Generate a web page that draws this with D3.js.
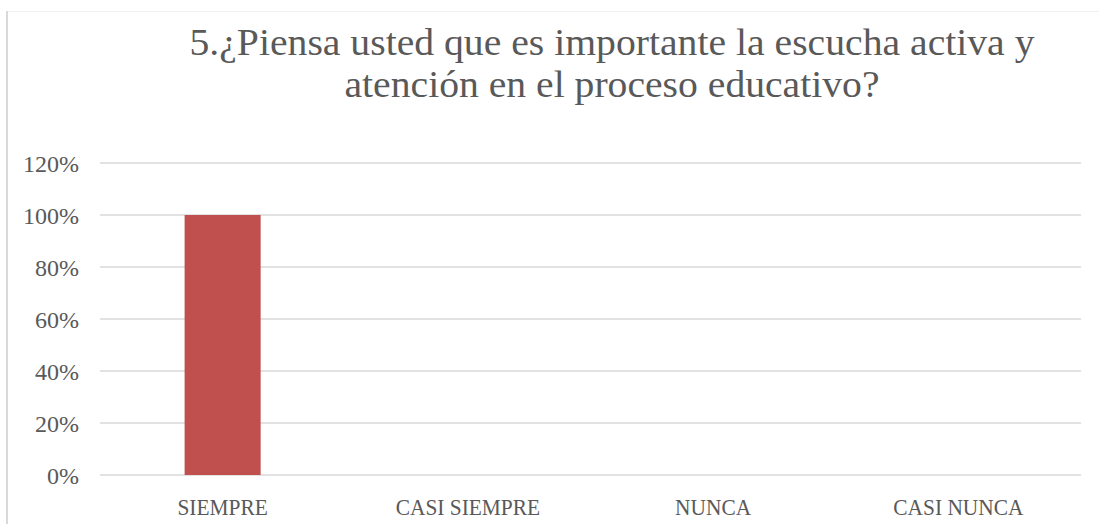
<!DOCTYPE html>
<html>
<head>
<meta charset="utf-8">
<script src="https://cdn.jsdelivr.net/npm/d3@7"></script>
<style>
  html, body { margin: 0; padding: 0; background: #ffffff; }
  svg { display: block; }
  text { font-family: "Liberation Serif", "DejaVu Serif", serif; fill: #595959; }
</style>
</head>
<body>
<svg id="chart" width="1099" height="524"></svg>
<script>
const titleLines = ["5.¿Piensa usted que es importante la escucha activa y", "atención en el proceso educativo?"];
const categories = ["SIEMPRE", "CASI SIEMPRE", "NUNCA", "CASI NUNCA"];
const values = [1.0, 0, 0, 0];
const yTicks = [0, 0.2, 0.4, 0.6, 0.8, 1.0, 1.2];

const svg = d3.select("#chart");
const W = 1099, H = 524;
const plot = { left: 100, right: 1081, top: 163, bottom: 475 };

// chart area border
svg.append("line").attr("x1", 6).attr("x2", W).attr("y1", 11.5).attr("y2", 11.5)
  .attr("stroke", "#f0f0f0").attr("stroke-width", 1);
svg.append("line").attr("x1", 7).attr("x2", 7).attr("y1", 11).attr("y2", H)
  .attr("stroke", "#d9d9d9").attr("stroke-width", 2);

const x = d3.scaleBand().domain(categories).range([plot.left, plot.right])
  .paddingInner(0.69).paddingOuter(0.345);
const y = d3.scaleLinear().domain([0, 1.2]).range([plot.bottom, plot.top]);

// gridlines
svg.append("g").selectAll("line").data(yTicks).join("line")
  .attr("x1", plot.left).attr("x2", plot.right)
  .attr("y1", d => y(d)).attr("y2", d => y(d))
  .attr("stroke", "#d9d9d9").attr("stroke-width", 1.5);

// y axis labels
const yAxis = d3.axisLeft(y).tickValues(yTicks).tickFormat(d3.format(".0%")).tickSize(0).tickPadding(0);
const gy = svg.append("g").attr("transform", `translate(79,0)`).call(yAxis);
gy.select(".domain").remove();
gy.selectAll("text").attr("font-size", 24).attr("font-family", "Liberation Serif").attr("fill", "#595959").attr("dy", "0.34em");

// bars
svg.append("g").selectAll("rect").data(values).join("rect")
  .attr("x", (d, i) => x(categories[i]))
  .attr("width", x.bandwidth())
  .attr("y", d => y(d))
  .attr("height", d => y(0) - y(d))
  .attr("fill", "#c0504d");

// x axis labels
const xAxis = d3.axisBottom(x).tickSize(0).tickPadding(0);
const gx = svg.append("g").attr("transform", `translate(0,${plot.bottom})`).call(xAxis);
gx.select(".domain").remove();
gx.selectAll("text").attr("font-size", 23).attr("font-family", "Liberation Serif").attr("fill", "#595959")
  .attr("dy", null).attr("y", 40)
  .each(function () {
    const len = this.getComputedTextLength();
    d3.select(this).attr("textLength", len * 0.93).attr("lengthAdjust", "spacingAndGlyphs");
  });

// title
const titleWidths = [845, 535];
const titleY = [55, 97];
titleLines.forEach((t, i) => {
  svg.append("text")
    .attr("x", 612).attr("y", titleY[i])
    .attr("text-anchor", "middle")
    .attr("font-size", 37)
    .attr("textLength", titleWidths[i])
    .attr("lengthAdjust", "spacingAndGlyphs")
    .text(t);
});
</script>
</body>
</html>
